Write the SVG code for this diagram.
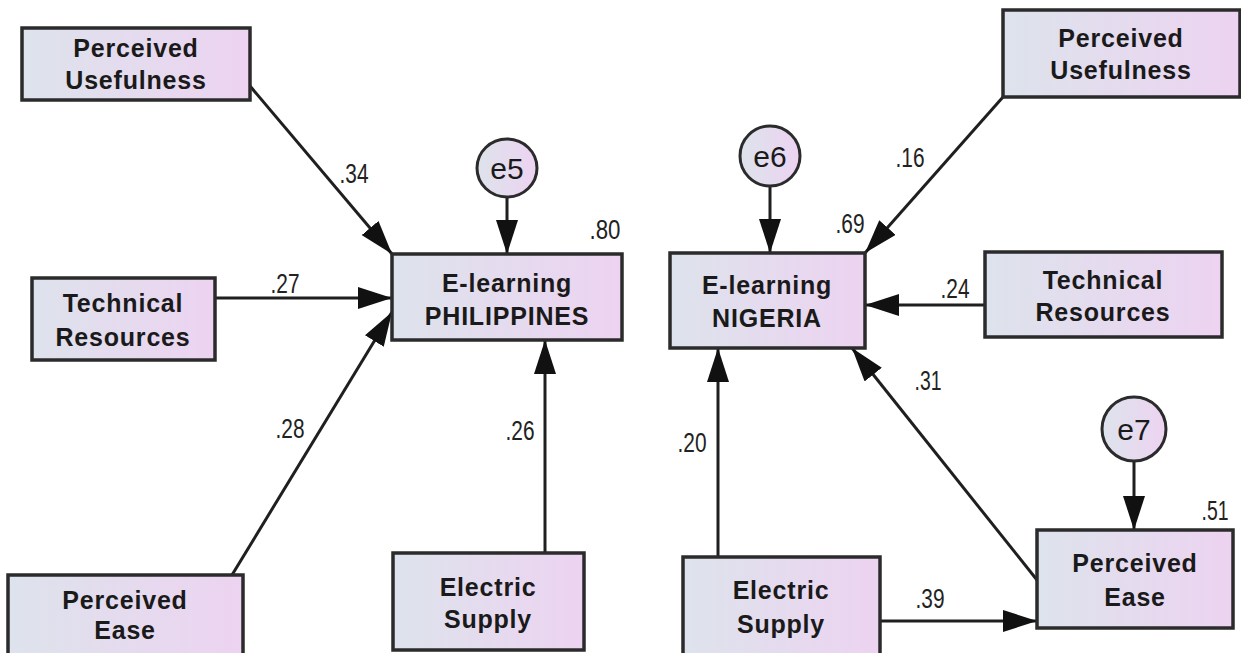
<svg xmlns="http://www.w3.org/2000/svg" width="1241" height="653" viewBox="0 0 1241 653">
<style>
.box{fill:url(#g);stroke:#2b2b2b;stroke-width:3.5}
.circ{fill:url(#g);stroke:#2b2b2b;stroke-width:3}
.t{font-family:"Liberation Sans",Arial,sans-serif;font-weight:bold;font-size:25px;letter-spacing:0.8px;fill:#1a1a1a;text-anchor:middle}
.e{font-family:"Liberation Sans",Arial,sans-serif;font-size:30px;fill:#1a1a1a;text-anchor:middle}
.n{font-family:"Liberation Sans",Arial,sans-serif;font-size:27px;fill:#222;text-anchor:middle}
.c{stroke:#1f1f1f;stroke-width:3;fill:none;marker-end:url(#ah)}
</style>
<defs>
<linearGradient id="g" x1="0" y1="0" x2="1" y2="0">
<stop offset="0" stop-color="#dde3ec"/>
<stop offset="1" stop-color="#edd3f1"/>
</linearGradient>
<marker id="ah" markerUnits="userSpaceOnUse" markerWidth="34" markerHeight="22" refX="34" refY="11" orient="auto">
<path d="M0,0 L34,11 L0,22 Z" fill="#111"/>
</marker>
</defs>
<rect width="1241" height="653" fill="#ffffff"/>
<g id="connectors">
<line class="c" x1="250" y1="86" x2="392" y2="254"/>
<line class="c" x1="215" y1="298" x2="392" y2="298"/>
<line class="c" x1="232" y1="575" x2="392" y2="312"/>
<line class="c" x1="545" y1="553" x2="545" y2="340"/>
<line class="c" x1="507" y1="197" x2="507" y2="254"/>
<line class="c" x1="1003" y1="97" x2="865" y2="253"/>
<line class="c" x1="985" y1="305" x2="865" y2="305"/>
<line class="c" x1="718" y1="557" x2="718" y2="348"/>
<line class="c" x1="1037" y1="580" x2="852" y2="348"/>
<line class="c" x1="880" y1="621" x2="1037" y2="621"/>
<line class="c" x1="770" y1="186" x2="770" y2="253"/>
<line class="c" x1="1134" y1="460" x2="1134" y2="530"/>
<text class="n" x="354" y="183" textLength="29" lengthAdjust="spacingAndGlyphs">.34</text>
<text class="n" x="285" y="293" textLength="29" lengthAdjust="spacingAndGlyphs">.27</text>
<text class="n" x="290" y="438" textLength="29" lengthAdjust="spacingAndGlyphs">.28</text>
<text class="n" x="520" y="440" textLength="29" lengthAdjust="spacingAndGlyphs">.26</text>
<text class="n" x="605" y="239" textLength="31" lengthAdjust="spacingAndGlyphs">.80</text>
<text class="n" x="850" y="233" textLength="29" lengthAdjust="spacingAndGlyphs">.69</text>
<text class="n" x="910" y="167" textLength="29" lengthAdjust="spacingAndGlyphs">.16</text>
<text class="n" x="955" y="298" textLength="29" lengthAdjust="spacingAndGlyphs">.24</text>
<text class="n" x="692" y="452" textLength="29" lengthAdjust="spacingAndGlyphs">.20</text>
<text class="n" x="928" y="390" textLength="27" lengthAdjust="spacingAndGlyphs">.31</text>
<text class="n" x="930" y="608" textLength="29" lengthAdjust="spacingAndGlyphs">.39</text>
<text class="n" x="1215" y="520" textLength="27" lengthAdjust="spacingAndGlyphs">.51</text>
</g>
<g id="pu_left"><rect class="box" x="22" y="28" width="228" height="72"/><text class="t" x="136" y="57">Perceived</text><text class="t" x="136" y="89">Usefulness</text></g>
<g id="tr_left"><rect class="box" x="32" y="278" width="183" height="82"/><text class="t" x="123" y="312">Technical</text><text class="t" x="123" y="346">Resources</text></g>
<g id="pe_left"><rect class="box" x="8" y="575" width="235" height="90"/><text class="t" x="125" y="609">Perceived</text><text class="t" x="125" y="639">Ease</text></g>
<g id="es_left"><rect class="box" x="393" y="553" width="191" height="97"/><text class="t" x="488" y="596">Electric</text><text class="t" x="488" y="628">Supply</text></g>
<g id="el_ph"><rect class="box" x="392" y="254" width="230" height="86"/><text class="t" x="507" y="292">E-learning</text><text class="t" x="507" y="325">PHILIPPINES</text></g>
<g id="e5"><ellipse class="circ" cx="507" cy="168" rx="30" ry="29"/><text class="e" x="507" y="179">e5</text></g>
<g id="el_ng"><rect class="box" x="670" y="253" width="195" height="95"/><text class="t" x="767" y="294">E-learning</text><text class="t" x="767" y="327">NIGERIA</text></g>
<g id="e6"><ellipse class="circ" cx="770" cy="156" rx="30" ry="30"/><text class="e" x="770" y="167">e6</text></g>
<g id="pu_right"><rect class="box" x="1003" y="10" width="237" height="87"/><text class="t" x="1121" y="47">Perceived</text><text class="t" x="1121" y="79">Usefulness</text></g>
<g id="tr_right"><rect class="box" x="985" y="252" width="237" height="85"/><text class="t" x="1103" y="289">Technical</text><text class="t" x="1103" y="321">Resources</text></g>
<g id="es_right"><rect class="box" x="683" y="557" width="197" height="100"/><text class="t" x="781" y="599">Electric</text><text class="t" x="781" y="633">Supply</text></g>
<g id="pe_right"><rect class="box" x="1037" y="530" width="196" height="98"/><text class="t" x="1135" y="572">Perceived</text><text class="t" x="1135" y="606">Ease</text></g>
<g id="e7"><ellipse class="circ" cx="1134" cy="429" rx="32" ry="32"/><text class="e" x="1134" y="440">e7</text></g>
</svg>
